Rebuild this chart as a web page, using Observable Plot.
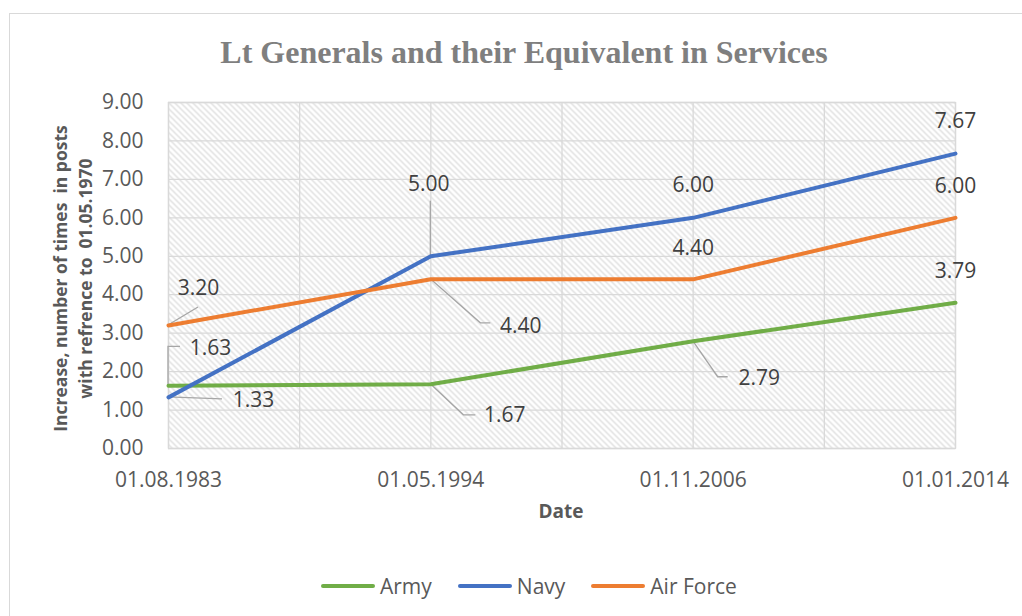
<!DOCTYPE html>
<html>
<head>
<meta charset="utf-8">
<script src="https://cdn.jsdelivr.net/npm/d3@7"></script>
<script src="https://cdn.jsdelivr.net/npm/@observablehq/plot@0.6"></script>
<style>
  body { margin: 0; background: #fff; }
  #wrap { position: relative; width: 1022px; height: 616px; overflow: hidden; font-family: "Open Sans", sans-serif; background: #fff; }
  #border { position: absolute; left: 9px; top: 13px; width: 1100px; height: 700px; border: 1px solid #d9d9d9; box-sizing: border-box; }
  #title { position: absolute; left: 0; width: 1048px; top: 32px; text-align: center; font-family: "Liberation Serif", "Times New Roman", serif; font-weight: bold; font-size: 32px; line-height: 40px; color: #7f7f7f; white-space: nowrap; }
  #chart { position: absolute; left: 0; top: 0; }
  #legend { position: absolute; top: 571px; left: 321px; display: flex; align-items: center; font-size: 21px; color: #595959; line-height: 30px; white-space: nowrap; }
  .item { display: flex; align-items: center; margin-right: 26px; }
  .sw { width: 54px; height: 4px; border-radius: 2px; margin-right: 5px; }
</style>
</head>
<body>
<div id="wrap">
  <div id="border"></div>
  <div id="chart"></div>
  <div id="title">Lt Generals and their Equivalent in Services</div>
  <div id="legend"></div>
</div>
<script>
// ---- data ----
const categories = ["01.08.1983", "01.05.1994", "01.11.2006", "01.01.2014"];
const army = [1.63, 1.67, 2.79, 3.79];
const navy = [1.33, 5.00, 6.00, 7.67];
const airForce = [3.20, 4.40, 4.40, 6.00];
const seriesNames = ["Army", "Navy", "Air Force"];
const yTicks = [0, 1, 2, 3, 4, 5, 6, 7, 8, 9];
const xGridTicks = [0, 0.5, 1, 1.5, 2, 2.5, 3];
const yTitle = "Increase, number of times  in posts\nwith refrence to  01.05.1970";
const xTitle = "Date";

// ---- styling / layout ----
const colors = ["#70ad47", "#4472c4", "#ed7d31"];
const labelOffsets = {
  "Army": [[42, -38], [74, 31], [66, 37], [0, -32]],
  "Navy": [[85, 3], [-2, -72], [0, -33], [0, -32]],
  "Air Force": [[30, -37], [90, 47], [0, -31], [0, -32]]
};
const leaders = {
  "Army": [[[0, -39], [12, -39]], [[33, 31], [45, 31]], [[25, 36], [35, 36]], null],
  "Navy": [[[54, 2]], [[0, -55]], null, null],
  "Air Force": [[[30, -18]], [[50, 44], [60, 44]], null, null]
};

const seriesValues = {"Army": army, "Navy": navy, "Air Force": airForce};
const rows = seriesNames.flatMap(s => seriesValues[s].map((v, i) => ({series: s, i, value: v})));

const labelMarks = rows.map(r => {
  const [dx, dy] = labelOffsets[r.series][r.i];
  return Plot.text([r], {
    x: "i", y: "value", text: d => d.value.toFixed(2),
    dx, dy, fontSize: 21, fill: "#404040", textAnchor: "middle"
  });
});

const plot = Plot.plot({
  width: 1022,
  height: 616,
  marginLeft: 168,
  marginRight: 67,
  marginTop: 102,
  marginBottom: 168,
  style: {fontFamily: "'Open Sans', sans-serif", fontSize: "21px", color: "#595959", background: "transparent", overflow: "visible"},
  x: {type: "linear", domain: [0, 3]},
  y: {domain: [0, 9]},
  color: {domain: seriesNames, range: colors},
  marks: [
    Plot.frame({fill: "url(#hatch)", stroke: "none"}),
    Plot.gridY(yTicks, {stroke: "#d9d9d9", strokeOpacity: 1, strokeWidth: 1.3}),
    Plot.gridX(xGridTicks, {stroke: "#d9d9d9", strokeOpacity: 1, strokeWidth: 1.3}),
    Plot.frame({stroke: "#d9d9d9", strokeWidth: 1.3}),
    Plot.axisY(yTicks, {tickSize: 0, tickPadding: 25, tickFormat: d => d.toFixed(2), label: null, fill: "#595959", fontSize: 21}),
    Plot.axisX([0, 1, 2, 3], {tickSize: 0, tickPadding: 24, tickFormat: i => categories[i], label: null, fill: "#595959", fontSize: 21}),
    Plot.line(rows, {x: "i", y: "value", z: "series", stroke: "series", strokeWidth: 4, strokeLinejoin: "round", strokeLinecap: "round"}),
    ...labelMarks,
    Plot.text([yTitle], {frameAnchor: "left", textAnchor: "middle", lineAnchor: "middle", rotate: -90, dx: -97.5, dy: 3, fontWeight: "bold", fontSize: 17.5, lineHeight: 1.43, fill: "#595959", text: d => d}),
    Plot.text([xTitle], {frameAnchor: "bottom", dx: -1, dy: 69, fontWeight: "bold", fontSize: 19, fill: "#595959", text: d => d})
  ]
});

// hatch pattern for plot area
const svg = d3.select(plot);
const defs = svg.insert("defs", ":first-child");
const pat = defs.append("pattern").attr("id", "hatch").attr("patternUnits", "userSpaceOnUse")
  .attr("width", 6).attr("height", 6);
pat.append("rect").attr("width", 6).attr("height", 6).attr("fill", "#ffffff");
pat.append("path").attr("d", "M-1,-1 L7,7 M-1,5 L1,7 M5,-1 L7,1")
  .attr("stroke", "#dcdcdc").attr("stroke-width", 1.3);

// leader lines computed from Plot scales
const sx = plot.scale("x"), sy = plot.scale("y");
const fx = sx.apply ? v => sx.apply(v) : d3.scaleLinear(sx.domain, sx.range);
const fy = sy.apply ? v => sy.apply(v) : d3.scaleLinear(sy.domain, sy.range);
const leaderG = svg.append("g").attr("fill", "none").attr("stroke", "#a6a6a6").attr("stroke-width", 1.3);
rows.forEach(r => {
  const pts = leaders[r.series][r.i];
  if (!pts) return;
  const px = fx(r.i), py = fy(r.value);
  const all = [[0, 0], ...pts].map(([a, b]) => [px + a, py + b]);
  leaderG.append("path").attr("d", d3.line()(all));
});
// keep leaders below the data lines
const lineGroup = svg.selectAll("g[aria-label='line']").node();
if (lineGroup) plot.insertBefore(leaderG.node(), lineGroup);

document.getElementById("chart").appendChild(plot);

// legend
const legend = d3.select("#legend");
seriesNames.forEach((s, k) => {
  const it = legend.append("div").attr("class", "item");
  it.append("div").attr("class", "sw").style("background", colors[k]);
  it.append("span").text(s);
});
</script>
</body>
</html>
